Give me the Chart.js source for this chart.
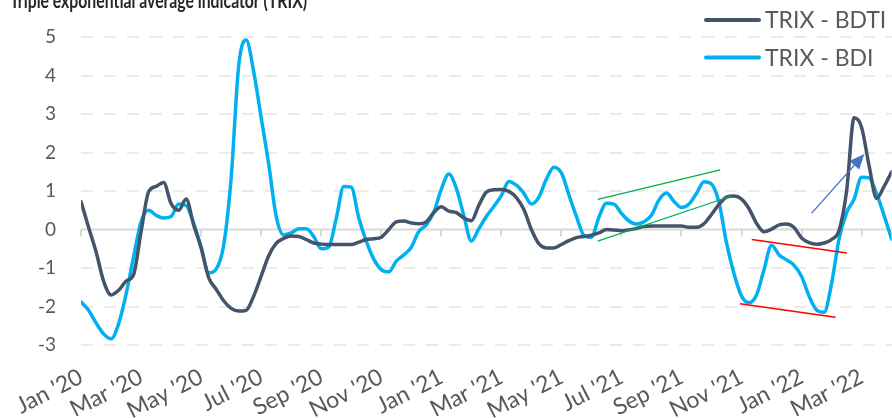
<!DOCTYPE html>
<html><head><meta charset="utf-8">
<script src="https://cdn.jsdelivr.net/npm/chart.js@4/dist/chart.umd.min.js"></script>
<style>html,body{margin:0;padding:0;background:#fff;overflow:hidden}
#wrap{position:relative;width:892px;height:418px}</style>
</head><body><div id="wrap"><canvas id="c" width="892" height="418"></canvas></div>
<script>
const chartTitle = "Triple exponential average indicator (TRIX)";
const seriesNames = ["TRIX - BDTI", "TRIX - BDI"];
const tickLabels = ["Jan '20","Mar '20","May '20","Jul '20","Sep '20","Nov '20","Jan '21","Mar '21","May '21","Jul '21","Sep '21","Nov '21","Jan '22","Mar '22"];
// months since Jan 2020
const months = [0,0.25,0.5,0.75,1,1.25,1.5,1.75,2,2.25,2.5,2.75,3,3.25,3.5,3.75,4,4.25,4.5,4.75,5,5.25,5.5,5.75,6,6.25,6.5,6.75,7,7.25,7.5,7.75,8,8.25,8.5,8.75,9,9.25,9.5,9.75,10,10.25,10.5,10.75,11,11.25,11.5,11.75,12,12.25,12.5,12.75,13,13.25,13.5,13.75,14,14.25,14.5,14.75,15,15.25,15.5,15.75,16,16.25,16.5,16.75,17,17.25,17.5,17.75,18,18.25,18.5,18.75,19,19.25,19.5,19.75,20,20.25,20.5,20.75,21,21.25,21.5,21.75,22,22.25,22.5,22.75,23,23.25,23.5,23.75,24,24.25,24.5,24.75,25,25.25,25.5,25.75,26,26.25,26.5,26.75,27];
const bdti = [0.72,0.06,-0.58,-1.34,-1.70,-1.58,-1.34,-1.17,-0.05,0.98,
1.12,1.22,0.67,0.50,0.79,0.12,-0.48,-1.25,-1.55,-1.85,
-2.05,-2.12,-2.10,-1.73,-1.21,-0.68,-0.36,-0.23,-0.17,-0.18,
-0.26,-0.35,-0.38,-0.39,-0.39,-0.39,-0.39,-0.33,-0.26,-0.24,
-0.20,0.00,0.20,0.22,0.17,0.15,0.20,0.44,0.59,0.48,
0.44,0.30,0.23,0.63,0.97,1.03,1.04,0.99,0.83,0.52,
0.00,-0.37,-0.48,-0.48,-0.39,-0.29,-0.21,-0.18,-0.15,-0.09,
0.00,-0.01,-0.03,-0.01,0.03,0.08,0.09,0.09,0.09,0.09,
0.09,0.06,0.06,0.15,0.39,0.65,0.84,0.87,0.79,0.54,
0.16,-0.06,0.01,0.12,0.14,0.05,-0.22,-0.34,-0.38,-0.35,
-0.26,-0.02,1.00,2.90,2.65,1.65,0.81,1.12,1.50];
const bdi = [-1.88,-2.10,-2.43,-2.71,-2.84,-2.45,-1.68,-0.71,0.21,0.50,
0.37,0.30,0.34,0.66,0.62,0.16,-0.46,-1.13,-1.03,-0.41,
1.35,4.25,4.92,4.10,2.90,1.70,0.34,-0.14,-0.09,0.02,
0.02,-0.18,-0.50,-0.45,0.29,1.12,1.10,0.30,-0.30,-0.77,
-1.04,-1.10,-0.82,-0.66,-0.46,-0.05,0.12,0.45,1.05,1.44,
1.07,0.36,-0.30,0.02,0.34,0.60,0.88,1.25,1.15,0.94,
0.66,0.84,1.31,1.62,1.47,0.90,0.34,-0.15,-0.20,0.32,
0.68,0.66,0.42,0.22,0.14,0.20,0.37,0.77,0.95,0.73,
0.57,0.66,0.94,1.24,1.18,0.70,-0.35,-1.15,-1.73,-1.90,
-1.70,-1.04,-0.41,-0.66,-0.79,-0.93,-1.22,-1.73,-2.09,-2.15,
-1.40,-0.24,0.44,0.79,1.36,1.34,0.93,0.36,-0.25];
// annotation segments [x1,y1,x2,y2] in (months, value)
const greenLines = [[17.21,0.78,21.29,1.55],[17.21,-0.30,21.66,0.87]];
const redLines = [[22.34,-0.26,25.51,-0.61],[21.95,-1.93,25.13,-2.28]];
const blueArrow = [24.33,0.42,26.09,1.96];

const colors = ['#44546A', '#00B0F0'];
const toXY = arr => arr.map((v,i)=>({x:months[i], y:v}));

const zeroPlugin = {
  id:'zeroLine',
  beforeDatasetsDraw(chart){
    const {ctx, chartArea:a, scales:{x,y}} = chart;
    const y0 = y.getPixelForValue(0);
    ctx.save();
    ctx.strokeStyle = '#d9d9d9'; ctx.lineWidth = 2;
    ctx.beginPath();
    ctx.moveTo(a.left, y0); ctx.lineTo(a.right, y0);
    x.ticks.forEach(t=>{const px = Math.round(x.getPixelForValue(t.value)); ctx.moveTo(px, y0); ctx.lineTo(px, y0+7);});
    ctx.stroke();
    ctx.restore();
  }
};
const annoPlugin = {
  id:'anno',
  afterDatasetsDraw(chart){
    const {ctx, scales:{x,y}} = chart;
    const seg = (s, col, w) => {
      ctx.strokeStyle = col; ctx.lineWidth = w;
      ctx.beginPath();
      ctx.moveTo(x.getPixelForValue(s[0]), y.getPixelForValue(s[1]));
      ctx.lineTo(x.getPixelForValue(s[2]), y.getPixelForValue(s[3]));
      ctx.stroke();
    };
    ctx.save();
    greenLines.forEach(s=>seg(s,'#00B050',1.3));
    redLines.forEach(s=>seg(s,'#FF0000',1.5));
    const x1 = x.getPixelForValue(blueArrow[0]), y1 = y.getPixelForValue(blueArrow[1]);
    const x2 = x.getPixelForValue(blueArrow[2]), y2 = y.getPixelForValue(blueArrow[3]);
    const ang = Math.atan2(y2-y1, x2-x1), L = 15, W = 6.5;
    const bx = x2 - L*Math.cos(ang), by = y2 - L*Math.sin(ang);
    ctx.strokeStyle = '#4472C4'; ctx.lineWidth = 1.3;
    ctx.beginPath(); ctx.moveTo(x1,y1); ctx.lineTo(bx,by); ctx.stroke();
    ctx.fillStyle = '#4472C4';
    ctx.beginPath();
    ctx.moveTo(x2,y2);
    ctx.lineTo(bx + W*Math.sin(ang), by - W*Math.cos(ang));
    ctx.lineTo(bx - W*Math.sin(ang), by + W*Math.cos(ang));
    ctx.closePath(); ctx.fill();
    ctx.restore();
  }
};
const textPlugin = {
  id:'texts',
  afterDraw(chart){
    const ctx = chart.ctx;
    ctx.save();
    ctx.font = 'bold 21px Lato';
    ctx.fillStyle = '#262626';
    ctx.textBaseline = 'alphabetic'; ctx.textAlign = 'left';
    ctx.save();
    ctx.translate(10, 8);
    ctx.scale(0.75, 1);
    ctx.fillText(chartTitle, 0, 0);
    ctx.restore();
    chart.data.datasets.forEach((ds,i)=>{
      const yy = 20 + i*37.5;
      ctx.strokeStyle = ds.borderColor; ctx.lineWidth = 4; ctx.lineCap = 'round';
      ctx.beginPath(); ctx.moveTo(706, yy); ctx.lineTo(759, yy); ctx.stroke();
      ctx.font = '23px Lato'; ctx.fillStyle = '#595959'; ctx.textBaseline = 'middle';
      ctx.fillText(ds.label, 765, yy+1);
    });
    ctx.restore();
  }
};

new Chart(document.getElementById('c'), {
  type:'line',
  data:{datasets:[
    {label:seriesNames[0], data:toXY(bdti), borderColor:colors[0], borderWidth:3.5, pointRadius:0, cubicInterpolationMode:'monotone', fill:false, borderJoinStyle:'round', borderCapStyle:'round'},
    {label:seriesNames[1], data:toXY(bdi), borderColor:colors[1], borderWidth:3.5, pointRadius:0, cubicInterpolationMode:'monotone', fill:false, borderJoinStyle:'round', borderCapStyle:'round'}
  ]},
  options:{
    responsive:false, animation:false, devicePixelRatio:1,
    layout:{padding:{top:37,right:0,left:0,bottom:0}},
    plugins:{legend:{display:false}, title:{display:false}, tooltip:{enabled:false}},
    scales:{
      x:{type:'linear', min:0, max:27,
        grid:{display:false, drawTicks:false}, border:{display:false},
        afterFit:s=>{s.height=73;},
        ticks:{stepSize:2, includeBounds:false, autoSkip:false, maxRotation:27, minRotation:27, padding:18,
          color:'#595959', font:{family:'Lato', size:23},
          callback:v=>tickLabels[Math.round(v/2)]}
      },
      y:{min:-3, max:5,
        afterFit:s=>{s.width=77;},
        grid:{color:c=>(c.tick && c.tick.value===0)?'rgba(0,0,0,0)':'#ebebeb', lineWidth:2, drawTicks:false},
        border:{display:false, dash:[12,11]},
        ticks:{stepSize:1, padding:25, color:'#595959', font:{family:'Lato', size:19}}
      }
    }
  },
  plugins:[zeroPlugin, annoPlugin, textPlugin]
});
</script></body></html>
